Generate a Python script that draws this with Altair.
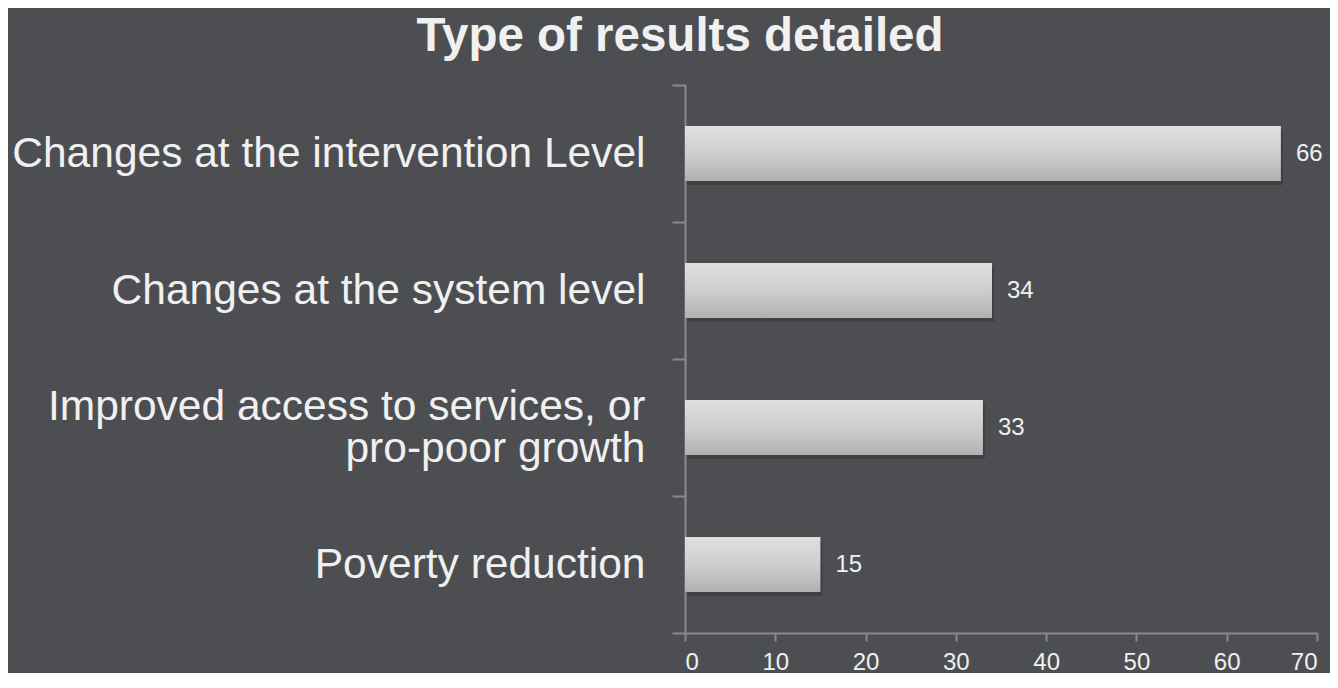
import altair as alt
import pandas as pd

categories = [
    "Changes at the intervention Level",
    "Changes at the system level",
    "Improved access to services, or|pro-poor growth",
    "Poverty reduction",
]
values = [66, 34, 33, 15]
x_ticks = [0, 10, 20, 30, 40, 50, 60, 70]

df = pd.DataFrame({"category": categories, "value": values})

BG = "#4d4e52"
TXT = "#f0f0f0"
AX = "#898a8c"
FONT = "Liberation Sans"
SP = "\u2800"  # blank glyph used as a half-height spacer line

# Two-line labels are split on "|"; a blank half-height spacer line keeps
# every label block centred on its band.
LABEL_EXPR = (
    "indexof(datum.label, '|') >= 0 ? "
    f"[split(datum.label, '|')[0], '{SP}', split(datum.label, '|')[1]] : "
    f"['{SP}', datum.label]"
)

y_enc = alt.Y(
    "category:N",
    sort=categories,
    scale=alt.Scale(paddingInner=0, paddingOuter=0),
    axis=alt.Axis(
        title=None,
        labelExpr=LABEL_EXPR,
        labelFont=FONT,
        labelFontSize=42.5,
        labelColor=TXT,
        labelLimit=800,
        labelPadding=27,
        labelLineHeight=21,
        labelOffset=-21,
        tickSize=13,
        tickBand="extent",
        tickColor=AX,
        tickWidth=2,
        domainColor=AX,
        domainWidth=2,
        grid=False,
    ),
)

x_enc = alt.X(
    "value:Q",
    scale=alt.Scale(domain=[0, 70], nice=False),
    axis=alt.Axis(
        title=None,
        values=x_ticks,
        labelFont=FONT,
        labelFontSize=24,
        labelColor=TXT,
        labelPadding=9,
        tickSize=8,
        tickColor=AX,
        tickWidth=2,
        domainColor=AX,
        domainWidth=2,
        grid=False,
    ),
)

shadow = alt.Chart(df).mark_bar(
    color="#3a3b3e", opacity=0.7, yOffset=4, xOffset=2, height={"band": 0.4}
).encode(y=y_enc, x=x_enc)

bars = alt.Chart(df).mark_bar(
    height={"band": 0.4},
    color=alt.Gradient(
        gradient="linear",
        stops=[
            alt.GradientStop(color="#dfe0df", offset=0),
            alt.GradientStop(color="#cdcecd", offset=0.5),
            alt.GradientStop(color="#b0b1b0", offset=1),
        ],
        x1=0, x2=0, y1=0, y2=1,
    ),
).encode(y=y_enc, x=x_enc)

labels = alt.Chart(df).mark_text(
    align="left", baseline="middle", dx=15, fontSize=24, font=FONT, color=TXT
).encode(y=y_enc, x=x_enc, text="value:Q")

chart = (
    alt.layer(shadow, bars, labels)
    .properties(
        width=632,
        height=548,
        background=BG,
        padding={"left": 677, "top": 77, "right": 13, "bottom": 40},
        autosize=alt.AutoSizeParams(type="none"),
        title=alt.TitleParams(
            text="Type of results detailed",
            font=FONT,
            fontSize=47.5,
            fontWeight="bold",
            color=TXT,
            anchor="middle",
            orient="top",
            offset=4,
            dx=-321,
        ),
    )
    .configure_view(stroke=None)
)

chart.save("out.html", embed_options={"renderer": "svg", "actions": False})
